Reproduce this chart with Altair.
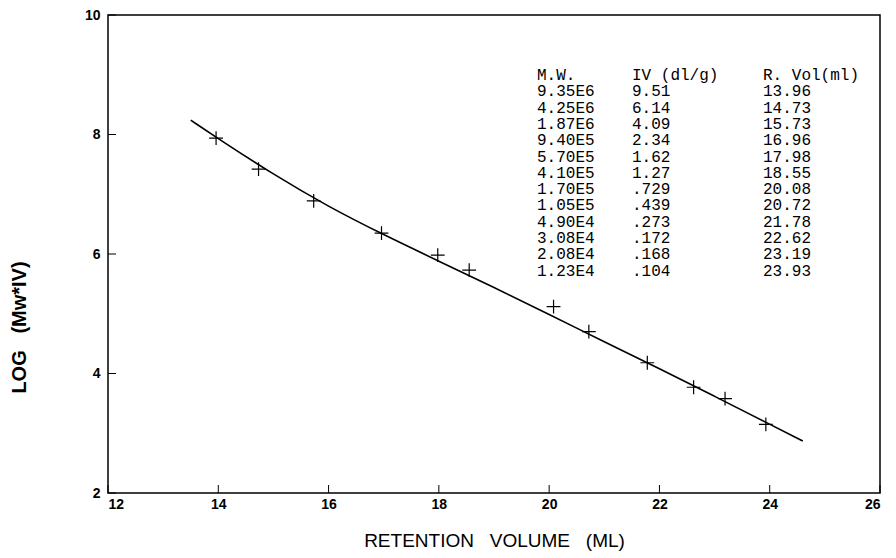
import altair as alt
import pandas as pd

# Measured points (retention volume, log(Mw*IV))
ret_vol = [13.96, 14.73, 15.73, 16.96, 17.98, 18.55, 20.08, 20.72, 21.78, 22.62, 23.19, 23.93]
log_mwiv = [7.94, 7.42, 6.89, 6.35, 5.98, 5.73, 5.12, 4.70, 4.18, 3.77, 3.58, 3.15]

# Fitted calibration curve
fit_x = [13.5, 14.0, 15.0, 16.0, 17.0, 18.0, 19.0, 20.0, 21.0, 22.0, 23.0, 24.0, 24.6]
fit_y = [8.24, 7.93, 7.33, 6.79, 6.32, 5.88, 5.44, 4.99, 4.53, 4.08, 3.62, 3.15, 2.87]

# Table text
mw = ["9.35E6", "4.25E6", "1.87E6", "9.40E5", "5.70E5", "4.10E5",
      "1.70E5", "1.05E5", "4.90E4", "3.08E4", "2.08E4", "1.23E4"]
iv = ["9.51", "6.14", "4.09", "2.34", "1.62", "1.27",
      ".729", ".439", ".273", ".172", ".168", ".104"]
rvol = ["13.96", "14.73", "15.73", "16.96", "17.98", "18.55",
        "20.08", "20.72", "21.78", "22.62", "23.19", "23.93"]
headers = ["M.W.", "IV (dl/g)", "R. Vol(ml)"]

x_ticks = [12, 14, 16, 18, 20, 22, 24, 26]
y_ticks = [2, 4, 6, 8, 10]

W, H = 772, 478
NB = "\u00a0"

pts = pd.DataFrame({"x": ret_vol, "y": log_mwiv})
fit = pd.DataFrame({"x": fit_x, "y": fit_y})

xscale = alt.Scale(domain=[12, 26], nice=False, zero=False)
yscale = alt.Scale(domain=[2, 10], nice=False, zero=False)

xaxis = alt.Axis(values=x_ticks, format="d", title="RETENTION" + NB * 3 + "VOLUME" + NB * 3 + "(ML)",
                 grid=False, domain=False, ticks=False,
                 labelFont="Liberation Sans", labelFontWeight="bold",
                 labelFontSize=14, labelPadding=4, labelColor="black",
                 titleFont="Liberation Sans", titleFontWeight="normal", titleFontSize=19,
                 titleColor="black", titleY=47, titleBaseline="middle")
yaxis = alt.Axis(values=y_ticks, format="d", title="LOG" + NB * 3 + "(Mw*IV)",
                 grid=False, domain=False, ticks=False,
                 labelFont="Liberation Sans", labelFontWeight="bold",
                 labelFontSize=14, labelPadding=8, labelColor="black",
                 titleFont="Liberation Sans", titleFontWeight="bold", titleFontSize=20,
                 titleColor="black", titleX=-89, titleY=312, titleAlign="center",
                 titleBaseline="middle", titleAngle=-90)

line = alt.Chart(fit).mark_line(color="black", strokeWidth=1.6, interpolate="basis").encode(
    x=alt.X("x:Q", scale=xscale, axis=xaxis),
    y=alt.Y("y:Q", scale=yscale, axis=yaxis),
)

points = alt.Chart(pts).mark_point(
    shape="M-1,0L1,0M0,-1L0,1", size=190, filled=False, color="black", strokeWidth=1.2, opacity=1
).encode(x="x:Q", y="y:Q")

xt = alt.Chart(pd.DataFrame({"v": x_ticks})).mark_rule(color="black", strokeWidth=1).encode(
    x="v:Q", y=alt.value(H), y2=alt.value(H - 8))
yt = alt.Chart(pd.DataFrame({"v": y_ticks})).mark_rule(color="black", strokeWidth=1).encode(
    y="v:Q", x=alt.value(0), x2=alt.value(8))

cols = [[headers[0]] + mw, [headers[1]] + iv, [headers[2]] + rvol]
col_x = [429, 524, 655]
texts = []
for c, cx in zip(cols, col_x):
    texts.append(
        alt.Chart(pd.DataFrame({"t": ["\n".join(c)]})).mark_text(
            font="Liberation Mono", fontSize=16, lineHeight=16.3, lineBreak="\n",
            align="left", baseline="middle", color="black"
        ).encode(text="t:N", x=alt.value(cx), y=alt.value(60))
    )

chart = alt.layer(line, points, xt, yt, *texts).properties(
    width=W, height=H,
    autosize=alt.AutoSizeParams(type="none"),
    padding={"left": 100, "top": 7, "right": 8, "bottom": 60},
).configure(background="white").configure_view(stroke="black", strokeWidth=1.5)

chart.save("out.html", embed_options={"renderer": "svg", "actions": False})
